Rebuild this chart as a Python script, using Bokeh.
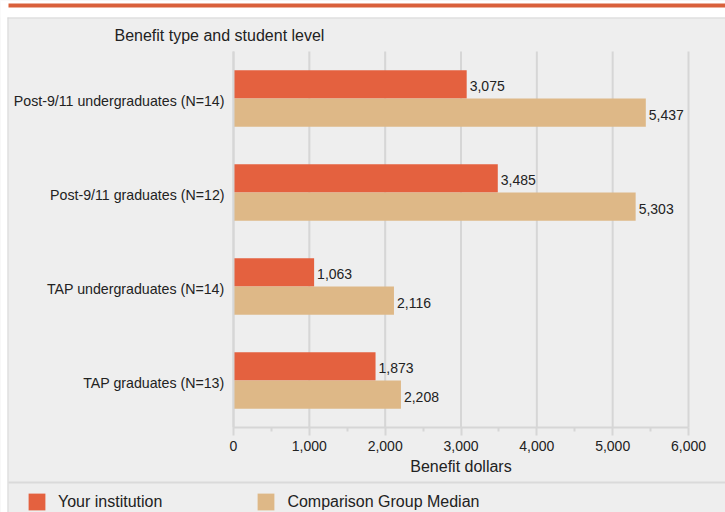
from bokeh.plotting import figure
from bokeh.models import (ColumnDataSource, Range1d, Legend, LegendItem, Label,
                          BoxAnnotation, FixedTicker, NumeralTickFormatter)
from bokeh.core.properties import value
from bokeh.transform import dodge
from bokeh.embed import file_html
from bokeh.resources import INLINE

categories = ["Post-9/11 undergraduates (N=14)", "Post-9/11 graduates (N=12)",
              "TAP undergraduates (N=14)", "TAP graduates (N=13)"]
institution = [3075, 3485, 1063, 1873]
comparison = [5437, 5303, 2116, 2208]
series_names = ["Your institution", "Comparison Group Median"]
x_ticks = [0, 1000, 2000, 3000, 4000, 5000, 6000]
x_minor_ticks = [500, 1500, 2500, 3500, 4500, 5500]
x_title = "Benefit dollars"
y_title = "Benefit type and student level"

RED = "#e4613f"
TAN = "#deb887"
GRID = "#d6d6d6"
BG = "#eeeeee"
TXT = "#222222"
FONT = "Liberation Sans"

# canvas geometry (pixels) of the bar area inside the full canvas
W, H = 725, 512
PL, PR, PT, PB = 233, 688, 51, 427
n = len(categories)
x0, x1 = x_ticks[0], x_ticks[-1]
upx = (x1 - x0) / (PR - PL)       # data units per pixel (x)
upy = n / (PB - PT)               # data units per pixel (y)

def dx(px):
    return x0 + (px - PL) * upx

def dy(py):
    return (PB - py) * upy

ypos = [n - i - 0.5 for i in range(n)]
src = ColumnDataSource(dict(
    y=ypos,
    inst=institution,
    comp=comparison,
    inst_lbl=[f"{v:,}" for v in institution],
    comp_lbl=[f"{v:,}" for v in comparison],
))

p = figure(width=W, height=H, output_backend="svg", toolbar_location=None, title=None,
           x_range=Range1d(dx(0), dx(W)), y_range=Range1d(dy(H), dy(0)),
           min_border=0, min_border_left=0, min_border_right=0,
           min_border_top=0, min_border_bottom=0)
p.background_fill_color = BG
p.border_fill_color = BG
p.outline_line_color = None
p.xgrid.visible = False
p.ygrid.visible = False

# panel decorations
def box(l, r, t, b, color):
    p.add_layout(BoxAnnotation(left=dx(l), right=dx(r), top=dy(t), bottom=dy(b),
                               fill_color=color, fill_alpha=1, line_color=None,
                               level="underlay"))

box(0, W, 0, 17, "#ffffff")
box(0, 7, 0, H, "#ffffff")
box(8, W, 3, 7, "#d9603b")
box(7, W, 17, 18, "#d8d8d8")
box(7, 8, 17, H, "#d8d8d8")
box(8, W, 481, 483, "#dadada")

# vertical grid lines at the x ticks over the bar area
p.segment(x0=x_ticks, x1=x_ticks, y0=[0] * len(x_ticks), y1=[n] * len(x_ticks),
          line_color=GRID, line_width=2, level="underlay")

r1 = p.hbar(y=dodge("y", 0.15), right="inst", left=0, height=0.3, source=src,
            fill_color=RED, line_color=None)
r2 = p.hbar(y=dodge("y", -0.15), right="comp", left=0, height=0.3, source=src,
            fill_color=TAN, line_color=None)

p.text(x="inst", y=dodge("y", 0.15), text="inst_lbl", source=src,
       x_offset=3, y_offset=2, text_baseline="middle", text_align="left",
       text_font_size="14px", text_font=value(FONT), text_color=TXT)
p.text(x="comp", y=dodge("y", -0.15), text="comp_lbl", source=src,
       x_offset=3, y_offset=2, text_baseline="middle", text_align="left",
       text_font_size="14px", text_font=value(FONT), text_color=TXT)

# x axis fixed at y=0
xa = p.xaxis[0]
xa.fixed_location = 0
xa.bounds = (x0, x1)
xa.ticker = FixedTicker(ticks=x_ticks, minor_ticks=x_minor_ticks)
xa.formatter = NumeralTickFormatter(format="0,0")
xa.axis_line_color = GRID
xa.axis_line_width = 2
xa.major_tick_line_color = GRID
xa.major_tick_line_width = 2
xa.major_tick_out = 8
xa.major_tick_in = 0
xa.minor_tick_line_color = GRID
xa.minor_tick_line_width = 2
xa.minor_tick_out = 4
xa.minor_tick_in = 0
xa.major_label_text_font = FONT
xa.major_label_text_font_size = "14px"
xa.major_label_text_color = TXT
xa.major_label_standoff = 5
xa.axis_label = x_title
xa.axis_label_text_font = FONT
xa.axis_label_text_font_size = "16px"
xa.axis_label_text_font_style = "normal"
xa.axis_label_text_color = TXT
xa.axis_label_standoff = 4

# y axis fixed at x=0; labels sit ~2px below each group's centre, as in the original
label_pos = [y - 2 * upy for y in ypos]
ya = p.yaxis[0]
ya.fixed_location = x0
ya.bounds = (0, n)
ya.ticker = FixedTicker(ticks=label_pos)
ya.major_label_overrides = {y: c for y, c in zip(label_pos, categories)}
ya.axis_line_color = GRID
ya.axis_line_width = 2
ya.major_tick_line_color = None
ya.minor_tick_line_color = None
ya.major_tick_out = 0
ya.major_tick_in = 0
ya.major_label_standoff = 9
ya.major_label_text_font = FONT
ya.major_label_text_font_size = "14.2px"
ya.major_label_text_color = TXT

# heading above the category labels
p.add_layout(Label(x=dx(114), y=dy(35), text=y_title, text_font=FONT,
                   text_font_size="16px", text_color=TXT, text_baseline="middle"))

legend = Legend(items=[LegendItem(label=series_names[0], renderers=[r1]),
                       LegendItem(label=series_names[1], renderers=[r2])],
                location=(26, 0), orientation="horizontal",
                padding=0, margin=0, spacing=93, glyph_width=21, glyph_height=21,
                label_standoff=11, label_text_font=FONT, label_text_font_size="16px",
                label_text_color=TXT, label_height=21,
                border_line_color=None, background_fill_alpha=0)
p.add_layout(legend, "center")

open("out.html", "w").write(file_html(p, INLINE))
